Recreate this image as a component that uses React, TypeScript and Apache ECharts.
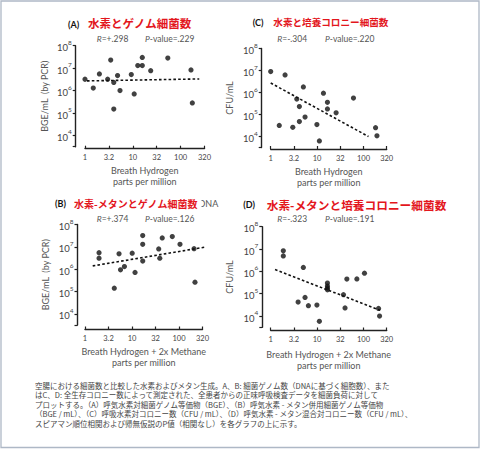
import React, { useEffect, useRef } from 'react';
import * as echarts from 'echarts';

// ---- data ----
const xTickLabels = ['1', '3.2', '10', '32', '100', '320'];

// (A) breath hydrogen vs bacterial genome equivalents
const aH2 = [1.0, 1.49, 2.0, 3.45, 2.98, 4.0, 4.8, 5.4, 4.0, 9.3, 10.7, 12.7, 15.8, 15.8, 23.7, 54, 165, 176];
const aBGE = [3.2e6, 1.3e6, 5.5e6, 2.3e7, 3.2e6, 2.3e6, 4.7e6, 1.0e6, 1.5e5, 5.2e6, 7.1e5, 1.3e7, 3.0e7, 1.3e7, 7.7e6, 2.8e7, 8.3e6, 2.8e5];
const trendAX = [1.1, 246];
const trendAY = [2.7e6, 3.3e6];

// (B) breath hydrogen + 2x methane vs genome equivalents
const bH2CH4 = [1.99, 1.99, 4.2, 5.3, 5.7, 6.9, 10.1, 11.6, 16.9, 16.9, 16.9, 37, 39, 44, 72, 105, 209, 219];
const bBGE = [5.5e6, 3.1e6, 1.4e5, 4.9e6, 9.4e5, 1.3e6, 5.2e6, 7.1e5, 3.2e7, 1.3e7, 2.3e6, 8.1e6, 3.1e6, 2.5e7, 2.9e7, 1.3e7, 8.3e6, 2.6e5];
const trendBX = [1.46, 370];
const trendBY = [1.4e6, 9.8e6];

// (C) breath hydrogen vs colony counts
const cH2 = [1.0, 2.04, 5.06, 3.65, 4.15, 13.7, 16.7, 16.7, 60.8, 25.7, 5.5, 4.15, 2.99, 1.53, 9.9, 11.2, 182, 195];
const cCFU = [9e6, 6.3e6, 1.8e6, 5e5, 2.3e5, 9.3e5, 3.6e5, 1.8e5, 5.6e5, 1.2e5, 7.6e4, 4.8e4, 2.6e4, 3.2e4, 3.5e4, 6.3e3, 2.5e4, 1.07e4];
const trendCX = [1.0, 128];
const trendCY = [2.7e6, 1.0e4];

// (D) breath hydrogen + 2x methane vs colony counts
const dH2CH4 = [1.87, 1.87, 5.06, 16.7, 16.7, 16.7, 16.7, 43.8, 72, 105, 37, 5.5, 3.9, 6.5, 9.9, 40, 11.2, 211, 222];
const dCFU = [8.3e6, 4.9e6, 1.5e6, 3.0e5, 2.2e5, 1.8e5, 1.5e5, 4.5e5, 4.6e5, 8.3e5, 9e4, 6.8e4, 4.2e4, 2.9e4, 3.1e4, 2.3e4, 5.8e3, 2.2e4, 1.0e4];
const trendDX = [1.24, 229];
const trendDY = [1.2e6, 1.8e4];

const panelLetters = ['(A)', '(B)', '(C)', '(D)'];
const panelTitles = ['水素とゲノム細菌数', '水素-メタンとゲノム細菌数', '水素と培養コロニー細菌数', '水素-メタンと培養コロニー細菌数'];
const rValues = ['+.298', '+.374', '-.304', '-.323'];
const pValues = ['.229', '.126', '.220', '.191'];
const yNames = ['BGE/mL  (by PCR)', 'BGE/mL  (by PCR)', 'CFU/mL', 'CFU/mL'];
const xNames = ['Breath Hydrogen\nparts per million', 'Breath Hydrogen + 2x Methane\nparts per million', 'Breath Hydrogen\nparts per million', 'Breath Hydrogen + 2x Methane\nparts per million'];

const captionLines = [
  '空腸における細菌数と比較した水素およびメタン生成。A、B: 細菌ゲノム数（DNAに基づく細胞数）、また',
  'はC、D: 全生存コロニー数によって測定された、全患者からの正味呼吸検査データを細菌負荷に対して',
  'プロットする。（A）呼気水素対細菌ゲノム等価物（BGE）、（B）呼気水素 - メタン併用細菌ゲノム等価物',
  '（BGE / mL）、（C）呼吸水素対コロニー数（CFU / mL）、（D）呼気水素 - メタン混合対コロニー数（CFU / mL）、',
  'スピアマン順位相関および帰無仮説のP値（相関なし）を各グラフの上に示す。',
];

const LAT = 'Lato, "Noto Sans", sans-serif';
const CJK = '"Noto Sans CJK JP", "Noto Sans CJK SC", sans-serif';
const AXC = '#222';
const SQ10 = Math.sqrt(10);

export default function App() {
  const ref = useRef<HTMLDivElement>(null);
  useEffect(() => {
    if (!ref.current) return;
    const chart = echarts.init(ref.current, null, { renderer: 'svg' });

    // layout: [left, top, width, height, yOffset, xOffset, yNameGap, xNameGap]
    const geo = [
      [85, 45.7, 119.5, 101, 9.3, 2, 27, 16],
      [85, 224.5, 117.5, 100.5, 7.5, 4.5, 28, 16],
      [270.7, 48.5, 116, 99, 9, 1.5, 28, 17],
      [270.7, 226.7, 116, 100.5, 8.4, 3.3, 28, 18],
    ];
    const pts = [
      [aH2, aBGE],
      [bH2CH4, bBGE],
      [cH2, cCFU],
      [dH2CH4, dCFU],
    ];
    const trends = [
      [trendAX, trendAY],
      [trendBX, trendBY],
      [trendCX, trendCY],
      [trendDX, trendDY],
    ];

    const grid: any[] = [];
    const xAxis: any[] = [];
    const yAxis: any[] = [];
    const series: any[] = [];

    geo.forEach((g, i) => {
      const [left, top, width, height, yOff, xOff, yGap, xGap] = g;
      grid.push({ left, top, width, height, containLabel: false, outerBoundsMode: 'none' });
      xAxis.push({
        type: 'log',
        gridIndex: i,
        logBase: SQ10,
        min: 1,
        max: Math.pow(10, 2.5),
        offset: xOff,
        splitLine: { show: false },
        axisLine: { show: true, lineStyle: { color: AXC, width: 1.4 } },
        axisTick: { show: true, inside: true, length: 3, lineStyle: { color: AXC, width: 1.2 } },
        minorTick: { show: false },
        axisLabel: {
          margin: 5,
          fontSize: 7.5,
          color: '#444',
          fontFamily: LAT,
          formatter: (v: number) => {
            const k = Math.round(Math.log(v) / Math.log(SQ10));
            return xTickLabels[k] ?? '';
          },
        },
        name: xNames[i],
        nameLocation: 'middle',
        nameGap: xGap,
        nameMoveOverlap: false,
        nameTextStyle: { fontSize: 9, color: '#555', fontFamily: LAT, lineHeight: 11 },
      });
      yAxis.push({
        type: 'log',
        gridIndex: i,
        logBase: 10,
        min: Math.pow(10, 3.5),
        max: 1e8,
        offset: yOff,
        splitLine: { show: false },
        axisLine: { show: true, lineStyle: { color: AXC, width: 1.4 } },
        axisTick: { show: true, inside: false, length: 3, lineStyle: { color: AXC, width: 1.2 } },
        minorTick: { show: false },
        axisLabel: {
          margin: 4,
          color: '#444',
          fontFamily: LAT,
          formatter: (v: number) => {
            const e = Math.log10(v);
            const r = Math.round(e);
            if (Math.abs(e - r) > 0.02) return '';
            return `{b|10}{s|${r}}`;
          },
          rich: {
            b: { fontSize: 9.5, color: '#444', fontFamily: LAT, lineHeight: 14, verticalAlign: 'bottom' },
            s: { fontSize: 6.5, color: '#444', fontFamily: LAT, lineHeight: 7, verticalAlign: 'top' },
          },
        },
        name: yNames[i],
        nameLocation: 'middle',
        nameRotate: 90,
        nameGap: yGap,
        nameMoveOverlap: false,
        nameTextStyle: { fontSize: 9, color: '#555', fontFamily: LAT },
      });
      const [xs, ys] = pts[i];
      series.push({
        type: 'scatter',
        xAxisIndex: i,
        yAxisIndex: i,
        symbol: 'circle',
        symbolSize: 5.2,
        itemStyle: { color: '#111' },
        data: xs.map((x, k) => [x, ys[k]]),
        z: 3,
      });
      const [tx, ty] = trends[i];
      series.push({
        type: 'line',
        xAxisIndex: i,
        yAxisIndex: i,
        showSymbol: false,
        symbol: 'none',
        clip: false,
        lineStyle: { color: '#111', width: 1.6, type: [2.6, 2.2] },
        data: tx.map((x, k) => [x, ty[k]]),
        z: 2,
      });
    });

    const letterPos = [[68, 24], [55, 203.5], [252.7, 22.3], [243.3, 204]];
    const titlePos = [[88, 22.7, 11.5], [74, 203.5, 10], [273.3, 22.3, 9.6], [266.7, 204, 11.7]];
    const rPos = [[96.7, 39], [96.7, 219.3], [277.3, 39], [277.3, 219.3]];
    const pPos = [[145, 39], [145, 219.3], [325, 39], [325, 219.3]];

    const graphic: any[] = [
      {
        type: 'rect',
        shape: { x: 1, y: 1, width: 478, height: 446.5 },
        style: { fill: 'none', stroke: '#aeb8c6', lineWidth: 1.3 },
        silent: true,
      },
      {
        type: 'text',
        x: 198.5,
        y: 203.5,
        style: { text: 'DNA', fontSize: 9, fontFamily: LAT, fill: '#555', align: 'left', verticalAlign: 'middle' },
        z: 1,
      },
      {
        type: 'rect',
        shape: { x: 196.5, y: 197, width: 5, height: 13 },
        style: { fill: '#ffffff' },
        z: 2,
      },
    ];
    for (let i = 0; i < 4; i++) {
      graphic.push({
        type: 'text',
        x: letterPos[i][0],
        y: letterPos[i][1],
        style: { text: panelLetters[i], fontSize: 9, fontWeight: 'bold', fontFamily: LAT, fill: '#111', align: 'left', verticalAlign: 'middle' },
        z: 3,
      });
      graphic.push({
        type: 'text',
        x: titlePos[i][0],
        y: titlePos[i][1],
        style: { text: panelTitles[i], fontSize: titlePos[i][2], fontWeight: 'bold', fontFamily: CJK, fill: '#e3161d', align: 'left', verticalAlign: 'middle' },
        z: 3,
      });
      graphic.push({
        type: 'text',
        x: rPos[i][0],
        y: rPos[i][1],
        style: {
          text: `{i|R}{n|=${rValues[i]}}`,
          rich: {
            i: { fontStyle: 'italic', fontSize: 8.5, fontFamily: LAT, fill: '#555' },
            n: { fontSize: 8.5, fontFamily: LAT, fill: '#555' },
          },
          fill: '#555',
          fontSize: 8.5,
          align: 'left',
          verticalAlign: 'middle',
        },
        z: 3,
      });
      graphic.push({
        type: 'text',
        x: pPos[i][0],
        y: pPos[i][1],
        style: {
          text: `{i|P}{n|-value=${pValues[i]}}`,
          rich: {
            i: { fontStyle: 'italic', fontSize: 8.5, fontFamily: LAT, fill: '#555' },
            n: { fontSize: 8.5, fontFamily: LAT, fill: '#555' },
          },
          fill: '#555',
          fontSize: 8.5,
          align: 'left',
          verticalAlign: 'middle',
        },
        z: 3,
      });
    }
    const capY = [385, 394.5, 404, 413.5, 423];
    captionLines.forEach((line, k) => {
      graphic.push({
        type: 'text',
        x: 35,
        y: capY[k],
        style: { text: line, fontSize: 7.5, fontFamily: CJK, fill: '#444', align: 'left', verticalAlign: 'middle' },
        z: 3,
      });
    });

    chart.setOption({
      animation: false,
      backgroundColor: '#ffffff',
      textStyle: { fontFamily: LAT },
      grid,
      xAxis,
      yAxis,
      series,
      graphic,
    });
    return () => chart.dispose();
  }, []);
  return (
    <div
      ref={ref}
      style={{ position: 'absolute', left: 0, top: 0, width: 480, height: 449, background: '#fff' }}
    />
  );
}
